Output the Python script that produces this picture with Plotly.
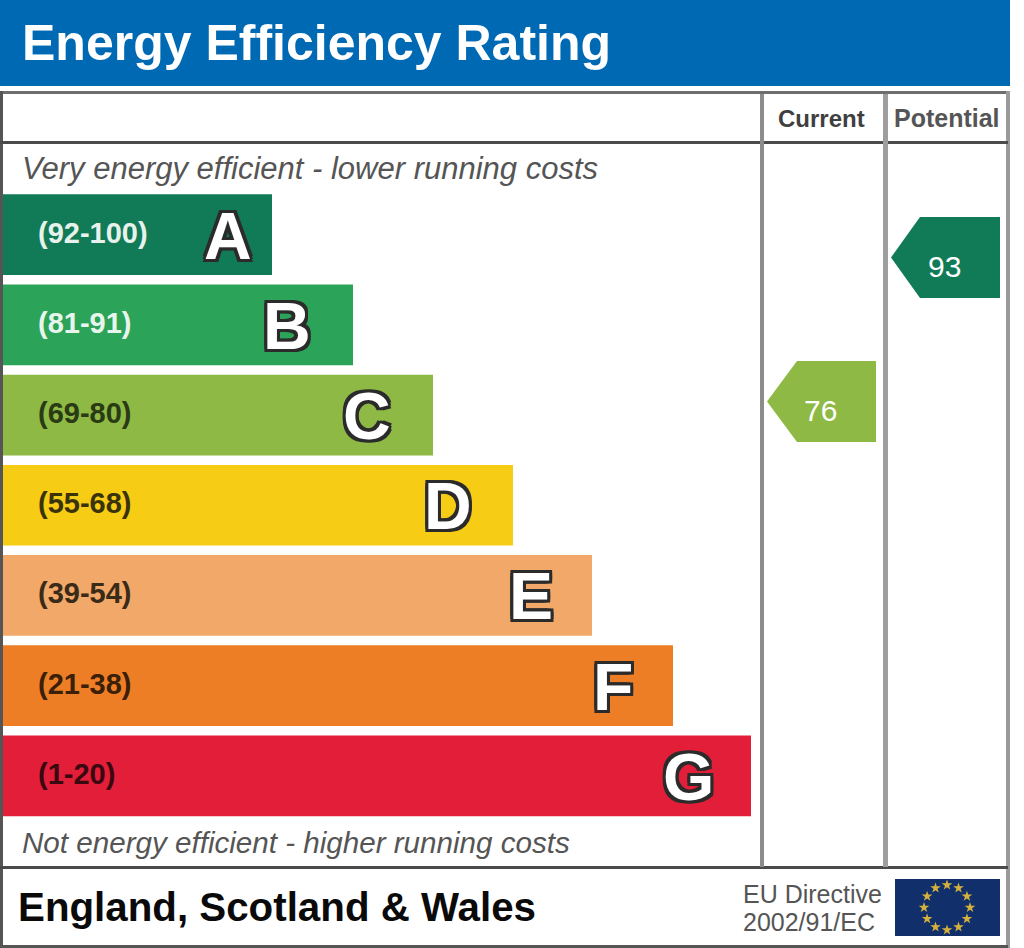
import numpy as np
import plotly.graph_objects as go

title = "Energy Efficiency Rating"
bands = ["A", "B", "C", "D", "E", "F", "G"]
ranges = ["(92-100)", "(81-91)", "(69-80)", "(55-68)", "(39-54)", "(21-38)", "(1-20)"]
bar_lengths = [272, 353, 433, 513, 592, 673, 751]
bar_colors = ["#117A56", "#2BA358", "#8DB944", "#F6CD14", "#F2A868", "#EE7E25", "#E31E39"]
range_colors = ["#E8F2EC", "#E8F5EC", "#2A3A14", "#3A3208", "#3A2A18", "#3A2008", "#3A0810"]
current_value = 76
potential_value = 93
current_color = "#8DB944"
potential_color = "#117A56"

W, H = 1024, 948
FONT = "Liberation Sans"
LETTER_INSET = {"A": 18, "B": 40, "C": 40, "D": 39, "E": 37, "F": 38, "G": 35}
outline = ",".join(f"{dx}px {dy}px 0 #2b2b2b" for dx in (-3, 0, 3) for dy in (-3, 0, 3))

fig = go.Figure()
fig.add_trace(go.Bar(y=bands, x=bar_lengths, orientation="h", marker=dict(color=bar_colors, line=dict(width=0)),
                     xaxis="x", yaxis="y", hoverinfo="skip", showlegend=False))

# EU flag stars
ang = np.deg2rad(np.arange(0, 360, 30))
fig.add_trace(go.Scatter(x=947 + 23 * np.sin(ang), y=907.5 - 22.5 * np.cos(ang), mode="markers",
                         marker=dict(symbol="star", size=8, color="#D4B03C"),
                         xaxis="x2", yaxis="y2", hoverinfo="skip", showlegend=False))

def rect(x0, y0, x1, y1, color, layer="above"):
    return dict(type="rect", xref="x2", yref="y2", x0=x0, y0=y0, x1=x1, y1=y1,
                fillcolor=color, line_width=0, layer=layer)

def arrow(x_tip, x_sh, x_end, y0, y1, color):
    ym = (y0 + y1) / 2
    return dict(type="path", xref="x2", yref="y2", fillcolor=color, line_width=0, layer="above",
                path=f"M{x_tip},{ym} L{x_sh},{y0} L{x_end},{y0} L{x_end},{y1} L{x_sh},{y1} Z")

shapes = [
    rect(0, 0, 1010, 86, "#0069B4"),
    rect(0, 91, 1010, 94, "#6E6E6E"),
    rect(0, 91, 3, 948, "#555555"),
    rect(1006, 91, 1010, 948, "#9A9A9A"),
    rect(0, 141, 1008, 144, "#4A4A4A"),
    rect(0, 866, 1008, 869, "#4A4A4A"),
    rect(0, 945, 1008, 948, "#555555"),
    rect(760, 94, 764, 867, "#8C8C8C"),
    rect(883, 94, 888, 867, "#9E9E9E"),
    rect(895, 879, 1000, 936, "#102F6B", layer="below"),
    arrow(767, 797, 876, 361, 442, current_color),
    arrow(891, 920, 1000, 217, 298, potential_color),
]

def txt(x, y, s, size, color, anchor="left", bold=False, italic=False):
    if bold:
        s = f"<b>{s}</b>"
    if italic:
        s = f"<i>{s}</i>"
    return dict(x=x, y=y, xref="x2", yref="y2", text=s, showarrow=False, xanchor=anchor, yanchor="middle",
                font=dict(family=FONT, size=size, color=color))

ann = [
    txt(20, 43, title, 50, "white", bold=True),
    txt(20, 168, "Very energy efficient - lower running costs", 31, "#555555", italic=True),
    txt(20, 842, "Not energy efficient - higher running costs", 29.6, "#555555", italic=True),
    txt(821, 118, "Current", 24, "#3F3F3F", "center", bold=True),
    txt(947, 118, "Potential", 25, "#555555", "center", bold=True),
    txt(16, 907, "England, Scotland &amp; Wales", 40.3, "#0A0A0A", bold=True),
    txt(741, 894, "EU Directive", 25, "#555555"),
    txt(741, 922, "2002/91/EC", 25, "#555555"),
    txt(820, 410, str(current_value), 30, "white", "center"),
    txt(944, 266, str(potential_value), 30, "white", "center"),
]
for b, r, length, rc in zip(bands, ranges, bar_lengths, range_colors):
    ann.append(dict(x=36, y=b, xref="x", yref="y", text=f"<b>{r}</b>", showarrow=False, xanchor="left",
                    yanchor="middle", yshift=2, font=dict(family=FONT, size=29, color=rc)))
    ann.append(dict(x=length - LETTER_INSET[b], y=b, xref="x", yref="y", text=f"<b>{b}</b>", showarrow=False,
                    xanchor="right", yanchor="middle", yshift=-1,
                    font=dict(family=FONT, size=66, color="white", shadow=outline)))

fig.update_layout(
    width=W, height=H, margin=dict(l=0, r=0, t=0, b=0, pad=0, autoexpand=False),
    paper_bgcolor="white", plot_bgcolor="rgba(0,0,0,0)", bargap=9.5 / 90.25,
    xaxis=dict(domain=[0, 1], range=[0, W], visible=False, fixedrange=True, anchor="y"),
    yaxis=dict(domain=[1 - 821.1 / H, 1 - 189.4 / H], categoryorder="array", categoryarray=bands,
               autorange="reversed", visible=False, fixedrange=True, anchor="x"),
    xaxis2=dict(domain=[0, 1], range=[0, W], visible=False, fixedrange=True, anchor="y2"),
    yaxis2=dict(domain=[0, 1], range=[H, 0], visible=False, fixedrange=True, anchor="x2"),
    shapes=shapes, annotations=ann, showlegend=False,
)
fig.write_html("out.html", config={"displayModeBar": False},
               post_script="document.body.style.margin='0';document.documentElement.style.overflow='hidden';")
